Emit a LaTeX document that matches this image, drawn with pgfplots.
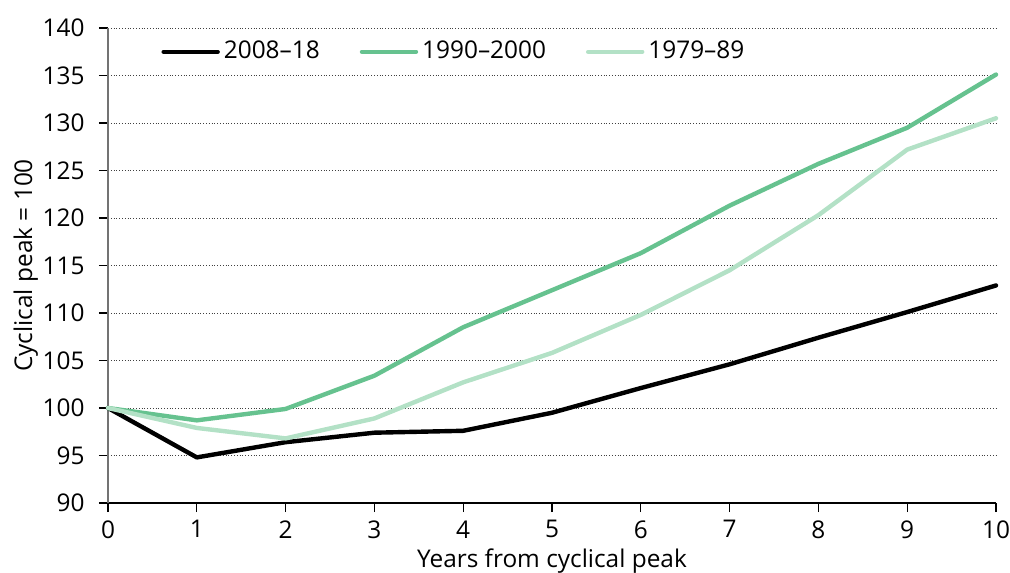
\documentclass[border=0pt]{standalone}
\usepackage{pgfplots}
\pgfplotsset{compat=1.18}
\usepackage{fontspec}
\setmainfont{Open Sans}

\definecolor{midgreen}{HTML}{66C28F}
\definecolor{palegreen}{HTML}{B3E1C6}

\begin{document}
\fontsize{12.2}{14}\selectfont
\begin{tikzpicture}
\begin{axis}[
    name=main,
    scale only axis,
    width=444pt, height=237.5pt,
    xmin=0, xmax=10,
    ymin=90, ymax=140,
    xtick={0,1,...,10},
    ytick={90,95,...,140},
    axis x line*=bottom,
    axis y line*=left,
    x axis line style={black, line width=0.6pt, -},
    y axis line style={gray!90!black, line width=0.6pt, -},
    tick style={black, line width=0.6pt},
    xtick align=outside, ytick align=outside,
    major tick length=4.5pt,
    ymajorgrids=true,
    grid style={densely dotted, black!75, line width=0.5pt},
    tick label style={font=\fontsize{12.2}{14}\selectfont},
    yticklabel style={xshift=-3pt},
    label style={font=\fontsize{12.2}{14}\selectfont},
    /pgf/number format/assume math mode=true,
    xlabel={Years from cyclical peak},
    ylabel={Cyclical peak = 100},
    xlabel style={yshift=3pt},
    ylabel style={yshift=-6pt},
    legend columns=3,
    legend style={draw=none, fill=none, at={(axis cs:0.53,137.5)}, anchor=west,
        font=\fontsize{12.2}{14}\selectfont,
        /tikz/every even column/.append style={column sep=18pt}},
    legend image code/.code={\draw[#1, line cap=round] (0pt,0pt) -- (27pt,0pt);},
    clip=false,
]
\addplot[black, line width=2.2pt, line join=round, line cap=round] coordinates {
(0,100)(1,94.8)(2,96.4)(3,97.4)(4,97.6)(5,99.5)(6,102.1)(7,104.6)(8,107.4)(9,110.1)(10,112.9)
};
\addlegendentry{2008–18}
\addplot[midgreen, line width=2.2pt, line join=round, line cap=round] coordinates {
(0,100)(1,98.7)(2,99.9)(3,103.4)(4,108.5)(5,112.4)(6,116.3)(7,121.3)(8,125.7)(9,129.5)(10,135.1)
};
\addlegendentry{1990–2000}
\addplot[palegreen, line width=2.2pt, line join=round, line cap=round] coordinates {
(0,100)(1,97.9)(2,96.8)(3,98.9)(4,102.7)(5,105.8)(6,109.8)(7,114.5)(8,120.3)(9,127.2)(10,130.5)
};
\addlegendentry{1979–89}
\end{axis}
\pgfresetboundingbox
\path ([shift={(-54pt,-34.5pt)}]main.south west) rectangle ([shift={(7pt,14pt)}]main.north east);
\end{tikzpicture}
\end{document}
